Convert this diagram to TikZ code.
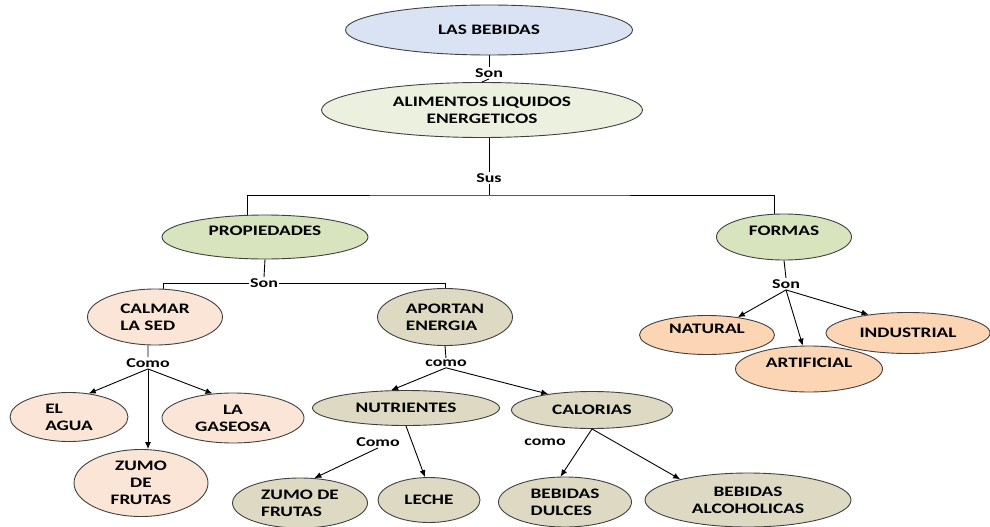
\documentclass[tikz,border=0pt]{standalone}
\usepackage{fontspec}
\newfontfamily\mapfont[FakeStretch=1.33]{Carlito}
\usepackage{tikz}
\usetikzlibrary{shapes.geometric,arrows.meta}

\definecolor{topblue}{HTML}{DAE3F3}
\definecolor{palegreen}{HTML}{EBF1DE}
\definecolor{leafgreen}{HTML}{D7E4BD}
\definecolor{peach}{HTML}{FBE5D6}
\definecolor{orange}{HTML}{FCD5B5}
\definecolor{khaki}{HTML}{DDD9C3}

\begin{document}
\begin{tikzpicture}[x=1pt,y=-1pt,line width=0.9pt,
  concept/.style={ellipse,draw=black!75,inner sep=0pt,align=center,
    font=\mapfont\bfseries\fontsize{14.5}{17}\selectfont},
  lifted/.style={text depth=12pt},
  link/.style={inner sep=1pt,font=\mapfont\bfseries\fontsize{13.5}{15}\selectfont},
  arr/.style={-{Latex[length=7pt,width=6pt]}}]
  \useasboundingbox (0,0) rectangle (990,527);

  \node (bebidas) at (489,30) [concept,fill=topblue,minimum width=287pt,minimum height=50pt] {LAS BEBIDAS};
  \node (alimentos) at (482,110) [concept,fill=palegreen,minimum width=321pt,minimum height=55pt] {ALIMENTOS LIQUIDOS\\ENERGETICOS};
  \node (prop) at (265,237) [concept,lifted,fill=leafgreen,minimum width=206pt,minimum height=44pt] {PROPIEDADES};
  \node (formas) at (784,237) [concept,lifted,fill=leafgreen,minimum width=135pt,minimum height=46pt] {FORMAS};
  \node (calmar) at (155,317) [concept,fill=peach,align=left,minimum width=135pt,minimum height=56pt] {CALMAR\\LA SED};
  \node (aportan) at (445,317) [concept,fill=khaki,align=left,minimum width=135pt,minimum height=57pt] {APORTAN\\ENERGIA};
  \node (agua) at (69,417) [concept,fill=peach,align=left,minimum width=118pt,minimum height=49pt] {EL\\AGUA};
  \node (gaseosa) at (233,418) [concept,fill=peach,minimum width=142pt,minimum height=50pt] {LA\\GASEOSA};
  \node (zumo) at (141,483) [concept,fill=peach,minimum width=134pt,minimum height=67pt] {ZUMO\\DE\\FRUTAS};
  \node (nutrientes) at (406,408) [concept,fill=khaki,minimum width=187pt,minimum height=35pt] {NUTRIENTES};
  \node (calorias) at (592,410) [concept,fill=khaki,minimum width=161pt,minimum height=37pt] {CALORIAS};
  \node (zumofrutas) at (300,503) [concept,fill=khaki,align=left,minimum width=135pt,minimum height=50pt] {ZUMO DE\\FRUTAS};
  \node (leche) at (429,500) [concept,fill=khaki,minimum width=102pt,minimum height=45pt] {LECHE};
  \node (dulces) at (565,502) [concept,fill=khaki,align=left,minimum width=133pt,minimum height=50pt] {BEBIDAS\\DULCES};
  \node (alcohol) at (748,500) [concept,fill=khaki,minimum width=206pt,minimum height=54pt] {BEBIDAS\\ALCOHOLICAS};
  \node (natural) at (707,335) [concept,lifted,fill=orange,minimum width=135pt,minimum height=39pt] {NATURAL};
  \node (industrial) at (908,333) [concept,fill=orange,minimum width=164pt,minimum height=41pt] {INDUSTRIAL};
  \node (artificial) at (809,369) [concept,lifted,fill=orange,minimum width=147pt,minimum height=46pt] {ARTIFICIAL};

  \node (son) at (489,73) [link] {Son};
  \node (sus) at (489,178) [link] {Sus};
  \node (sonprop) at (264,283) [link] {Son};
  \node (comosed) at (148,363) [link] {Como};
  \node (comoenergia) at (446,363) [link] {como};
  \node (sonformas) at (786,284) [link] {Son};
  \node (comonutri) at (378,442) [link] {Como};
  \node (comocalor) at (545,442) [link] {como};
  \coordinate (bar) at (489,195);

  \draw (node cs:name=bebidas,anchor=south) -- (node cs:name=son,anchor=north);
  \draw (node cs:name=son,anchor=south) -- (node cs:name=alimentos,anchor=north);
  \draw (sus.north |- alimentos.south) -- (node cs:name=sus,anchor=north);
  \draw (node cs:name=sus,anchor=south) -- (bar);
  \draw (node cs:name=prop,angle=128) |- (bar) -| (node cs:name=formas,angle=112);

  \draw (node cs:name=prop,anchor=south) -- (node cs:name=sonprop,anchor=north);
  \draw (node cs:name=calmar,angle=74) |- (node cs:name=sonprop,anchor=west);
  \draw (node cs:name=sonprop,anchor=east) -| (node cs:name=aportan,anchor=north);

  \draw (node cs:name=calmar,angle=-104) -- (node cs:name=comosed,anchor=north);
  \draw[arr] (node cs:name=comosed,anchor=south) -- (node cs:name=agua,angle=50);
  \draw[arr] (node cs:name=comosed,anchor=south) -- (comosed.south |- zumo.north);
  \draw[arr] (node cs:name=comosed,anchor=south) -- (node cs:name=gaseosa,angle=130);

  \draw (node cs:name=aportan,anchor=south) -- (node cs:name=comoenergia,anchor=north);
  \draw[arr] (node cs:name=comoenergia,anchor=south) -- (node cs:name=nutrientes,angle=130);
  \draw[arr] (node cs:name=comoenergia,anchor=south) -- (node cs:name=calorias,angle=160);

  \draw[arr] (node cs:name=comonutri,anchor=south) -- (node cs:name=zumofrutas,angle=60);
  \draw[arr] (node cs:name=nutrientes,anchor=south) -- (node cs:name=leche,angle=100);

  \draw[arr] (node cs:name=calorias,anchor=south) -- (node cs:name=dulces,angle=100);
  \draw[arr] (node cs:name=calorias,anchor=south) -- (node cs:name=alcohol,angle=163);

  \draw (node cs:name=formas,anchor=south) -- (node cs:name=sonformas,anchor=north);
  \draw[arr] (node cs:name=sonformas,anchor=south) -- (node cs:name=natural,angle=30);
  \draw[arr] (node cs:name=sonformas,anchor=south) -- (node cs:name=artificial,angle=105);
  \draw[arr] (node cs:name=sonformas,anchor=south) -- (node cs:name=industrial,angle=155);
\end{tikzpicture}
\end{document}
